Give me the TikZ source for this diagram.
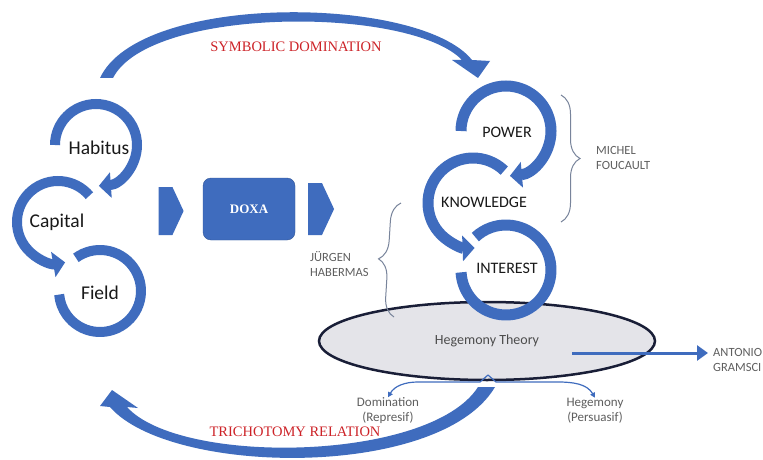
\documentclass[tikz,border=0pt]{standalone}
\usepackage{fontspec}
\setmainfont{Carlito}
\newfontfamily\titlefont{Liberation Serif}
\usepackage{xcolor}
\usetikzlibrary{arrows.meta,positioning,shapes.geometric,shapes.symbols,decorations.pathreplacing}

\definecolor{ringblue}{RGB}{63,108,190}
\definecolor{titlered}{RGB}{205,35,40}
\definecolor{notegray}{RGB}{95,95,95}
\definecolor{bracegray}{RGB}{120,132,155}
\definecolor{ovalfill}{RGB}{228,228,233}
\definecolor{ovalline}{RGB}{25,30,55}

\begin{document}
\begin{tikzpicture}[x=1pt, y=1pt,
    ring/.style={ringblue, line width=10pt},
    bigring/.style={ringblue, line width=11pt},
    ringtip/.style={-{Triangle[length=12pt,width=25pt]}},
    ringtext/.style={font=\fontsize{19.5}{22}\selectfont, text=black!90, inner sep=0pt},
    capstext/.style={font=\fontsize{16}{19}\selectfont, text=black!90, inner sep=0pt},
    note/.style={font=\fontsize{12.5}{15}\selectfont, text=notegray, align=left, inner sep=0pt},
    branchnote/.style={font=\fontsize{13}{15}\selectfont, text=notegray, align=center, inner sep=0pt},
    title/.style={font=\titlefont\fontsize{14.5}{17}\selectfont, text=titlered},
    bracket/.style={draw=bracegray, line width=1pt, decorate, decoration={brace, amplitude=19pt}},
    blockarrow/.style={signal, signal to=east, signal pointer angle=130, fill=ringblue, minimum width=25pt, minimum height=48pt, inner sep=0pt},
    branch/.style={ringblue, line width=1.2pt, -{Triangle[length=5pt,width=5pt]}},
]
    \useasboundingbox (0,0) rectangle (763,459);
    \fill[white] (0,0) rectangle (763,459);

    % Symbolic domination arrow (top)
    \fill[ringblue] (100,381) .. controls (140,467) and (420,464) .. (472,399)
        -- (490,398) -- (478,381) -- (452,399) -- (462,399)
        .. controls (410,453) and (150,453) .. (113,381) -- cycle;
    \node[title] (symdom) at (296,412) {SYMBOLIC DOMINATION};

    % Trichotomy relation arrow (bottom)
    \fill[ringblue] (495,72) .. controls (440,-21) and (170,-17) .. (110,52)
        -- (100,53) -- (112,69) -- (138,51) -- (127,52)
        .. controls (180,-7) and (430,-3) .. (478,72) -- cycle;
    \node[title] (trich) at (295,27) {TRICHOTOMY RELATION};

    % Hegemony oval
    \node[ellipse, draw=ovalline, line width=2.5pt, fill=ovalfill, minimum width=336pt, minimum height=78pt,
        font=\fontsize{14}{16}\selectfont, text=black!70] (heg) at (487,118) {Hegemony Theory};

    % Braces
    \coordinate (foutop) at (561,364);
    \coordinate (foubot) at (561,237);
    \draw[bracket] (foutop) -- (foubot);
    \node[note, anchor=west] (fou) at (596,301.5) {MICHEL\\FOUCAULT};
    \coordinate (habbot) at (394,142);
    \coordinate (habtop) at (401,256);
    \draw[bracket] (habbot) -- (habtop);
    \node[note, anchor=west] (hab) at (310,195) {JÜRGEN\\HABERMAS};

    % Bourdieu rings
    \coordinate (habc) at (96,314);
    \coordinate (capc) at (58,237);
    \coordinate (fldc) at (100,168);
    \draw[ring, ringtip] ([shift={(180:41)}]habc) arc[start angle=180, end angle=-86, radius=41];
    \draw[ring, ringtip] ([shift={(40:41)}]capc) arc[start angle=40, end angle=280, radius=41];
    \draw[ring] ([shift={(126:41)}]fldc) arc[start angle=126, end angle=-175, radius=41];
    \node[ringtext] (habitus) at (99,311) {Habitus};
    \node[ringtext] (capital) at (57,237) {Capital};
    \node[ringtext] (field) at (100,166) {Field};

    % Foucault rings
    \coordinate (powc) at (506,328);
    \coordinate (knwc) at (473,256);
    \coordinate (intc) at (506,189);
    \draw[bigring, ringtip] ([shift={(180:45)}]powc) arc[start angle=180, end angle=-85, radius=45];
    \draw[bigring, ringtip] ([shift={(46:45)}]knwc) arc[start angle=46, end angle=272, radius=45];
    \draw[bigring] ([shift={(133:45)}]intc) arc[start angle=133, end angle=-177, radius=45];
    \node[capstext] (power) at (507,327) {POWER};
    \node[capstext] (knowledge) at (484,257) {KNOWLEDGE};
    \node[capstext] (interest) at (507,191) {INTEREST};

    % Doxa
    \node[blockarrow] (arrin) at (165.5,248) {};
    \node[draw=ringblue!80!black, fill=ringblue, rounded corners=8pt, minimum width=92pt, minimum height=62pt,
        text=white, font=\titlefont\bfseries\fontsize{13}{15}\selectfont] (doxa) at (249,250) {DOXA};
    \node[blockarrow, minimum height=52pt, minimum width=26pt] (arrout) at (315,250) {};

    % Gramsci
    \node[note, anchor=west] (gram) at (713,99) {ANTONIO\\GRAMSCI};
    \draw[ringblue, line width=3pt, -{Triangle[length=11pt,width=15pt]}] ([shift={(85,-12)}]heg.center) -- ([shift={(-5,7)}]gram.west);

    % Domination / hegemony branches
    \node[branchnote] (dom) at (388,48.5) {Domination\\(Represif)};
    \node[branchnote] (hgm) at (595,48.5) {Hegemony\\(Persuasif)};
    \coordinate (caret) at (488,84);
    \draw[branch] (caret) -- (480,77) -- (418,77) to[out=180, in=60] (dom.north);
    \draw[branch] (caret) -- (496,77) -- (558,77) to[out=0, in=120] (hgm.north);
\end{tikzpicture}
\end{document}
